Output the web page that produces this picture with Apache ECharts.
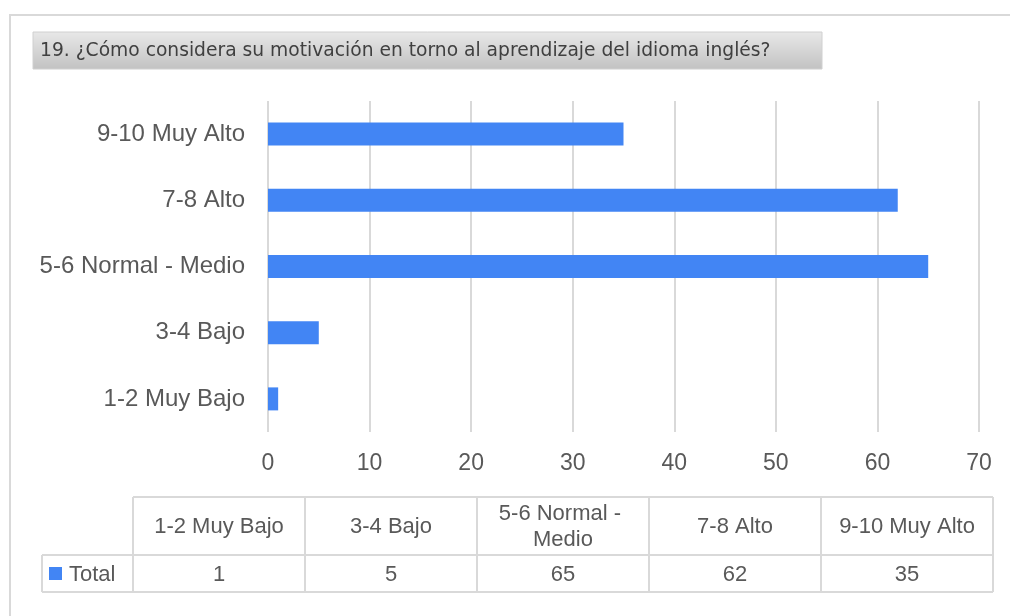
<!DOCTYPE html>
<html>
<head>
<meta charset="utf-8">
<script src="https://cdn.jsdelivr.net/npm/echarts@6/dist/echarts.min.js"></script>
<style>
  html, body { margin: 0; padding: 0; background: #fff; }
  #chart { width: 1010px; height: 616px; }
</style>
</head>
<body>
<div id="chart"></div>
<script>
  // datos
  const titleText = '19. ¿Cómo considera su motivación en torno al aprendizaje del idioma inglés?';
  const categories = ['1-2 Muy Bajo', '3-4 Bajo', '5-6 Normal - Medio', '7-8 Alto', '9-10 Muy Alto'];
  const totals = [1, 5, 65, 62, 35];
  const seriesName = 'Total';

  const blue = '#4285f4';
  const textColor = '#595959';
  const lineColor = '#d9d9d9';
  const font = '"Liberation Sans", Arial, sans-serif';

  // tabla de datos debajo del grafico
  const tblLeft = 42, tblKeyW = 91, colW = 172;
  const tblTop = 497, headH = 58, rowH = 37;
  const tblRight = tblLeft + tblKeyW + colW * categories.length;
  let table = [];
  function hline(x1, x2, y) {
    table.push({ type: 'line', shape: { x1: x1, y1: y, x2: x2, y2: y }, style: { stroke: lineColor, lineWidth: 2 } });
  }
  function vline(x, y1, y2) {
    table.push({ type: 'line', shape: { x1: x, y1: y1, x2: x, y2: y2 }, style: { stroke: lineColor, lineWidth: 2 } });
  }
  hline(tblLeft + tblKeyW, tblRight, tblTop);
  hline(tblLeft, tblRight, tblTop + headH);
  hline(tblLeft, tblRight, tblTop + headH + rowH);
  vline(tblLeft, tblTop + headH, tblTop + headH + rowH);
  for (let i = 0; i <= categories.length; i++) {
    vline(tblLeft + tblKeyW + colW * i, tblTop, tblTop + headH + rowH);
  }
  categories.forEach(function (c, i) {
    let cx = tblLeft + tblKeyW + colW * i + colW / 2;
    table.push({
      type: 'text', x: cx, y: tblTop + headH / 2 + 1,
      style: { text: c, fill: textColor, font: '22px ' + font, align: 'center', verticalAlign: 'middle', width: 160, overflow: 'break', lineHeight: 26 }
    });
    table.push({
      type: 'text', x: cx, y: tblTop + headH + rowH / 2 + 1,
      style: { text: String(totals[i]), fill: textColor, font: '22px ' + font, align: 'center', verticalAlign: 'middle' }
    });
  });
  // clave de leyenda
  table.push({ type: 'rect', shape: { x: 49, y: 567, width: 13, height: 13 }, style: { fill: blue } });
  table.push({
    type: 'text', x: 69, y: tblTop + headH + rowH / 2 + 1,
    style: { text: seriesName, fill: textColor, font: '22px ' + font, verticalAlign: 'middle' }
  });

  let option = {
    backgroundColor: '#fff',
    animation: false,
    grid: {
      left: 268,
      right: 31,
      top: 101,
      height: 331
    },
    xAxis: {
      type: 'value',
      min: 0,
      max: 70,
      interval: 10,
      axisLine: { show: false },
      axisTick: { show: false },
      axisLabel: { color: textColor, fontSize: 23, fontFamily: font, margin: 20 },
      splitLine: { lineStyle: { color: lineColor, width: 2 } }
    },
    yAxis: {
      type: 'category',
      data: categories,
      axisLine: { show: false },
      axisTick: { show: false },
      axisLabel: { color: textColor, fontSize: 24, fontFamily: font, margin: 23 }
    },
    series: [
      {
        name: seriesName,
        type: 'bar',
        data: totals,
        barWidth: 23,
        itemStyle: { color: blue }
      }
    ],
    graphic: [
      // borde exterior
      { type: 'rect', shape: { x: 10, y: 15, width: 1020, height: 640 }, style: { fill: 'none', stroke: lineColor, lineWidth: 2 }, silent: true },
      // caja del titulo
      {
        type: 'rect', shape: { x: 33, y: 32, width: 789, height: 37 },
        style: {
          fill: new echarts.graphic.LinearGradient(0, 0, 0, 1, [
            { offset: 0, color: '#e8e8e8' },
            { offset: 1, color: '#c2c2c2' }
          ]),
          stroke: '#d0d0d0', lineWidth: 1
        }
      },
      {
        type: 'text', x: 40, y: 51,
        style: { text: titleText, fill: '#404040', font: '18.7px "DejaVu Sans", Tahoma, sans-serif', verticalAlign: 'middle' }
      }
    ].concat(table)
  };

  const chartObj = echarts.init(document.getElementById('chart'));
  chartObj.setOption(option);
</script>
</body>
</html>
